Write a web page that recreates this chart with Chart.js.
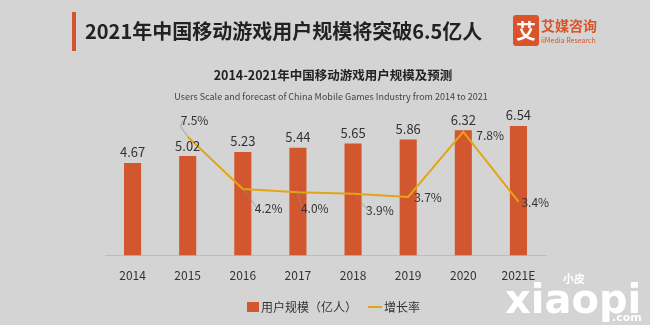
<!DOCTYPE html>
<html>
<head>
<meta charset="utf-8">
<script src="https://cdn.jsdelivr.net/npm/chart.js@4.4.0/dist/chart.umd.min.js"></script>
<style>
  html, body { margin: 0; padding: 0; background: #d4d4d4; }
  #wrap { width: 650px; height: 325px; position: relative; }
</style>
</head>
<body>
<div id="wrap"><canvas id="chart" width="650" height="325"></canvas></div>
<script>
// 数据
const years = ['2014', '2015', '2016', '2017', '2018', '2019', '2020', '2021E'];
const users = [4.67, 5.02, 5.23, 5.44, 5.65, 5.86, 6.32, 6.54];
const growth = [null, 7.5, 4.2, 4.0, 3.9, 3.7, 7.8, 3.4];
const growthLabels = ['', '7.5%', '4.2%', '4.0%', '3.9%', '3.7%', '7.8%', '3.4%'];
// 增长率标签相对折线点的偏移 [dx, dy]
const growthLabelOffset = [null, [5, -16], [24, 19], [15, 16], [25, 17], [18, 1], [25, 4], [15, 1]];

const BAR_COLOR = '#d2572f';
const LINE_COLOR = '#e2a516';
const TEXT_COLOR = '#333333';
const FONT = '"Noto Sans CJK SC", "Noto Sans", sans-serif';

// 标题、标签、图例都直接画在画布上
const decorPlugin = {
    id: 'decor',
    afterDatasetsDraw(chart) {
        const ctx = chart.ctx;
        const barMeta = chart.getDatasetMeta(0);
        const lineMeta = chart.getDatasetMeta(1);
        ctx.save();

        // 柱子数值
        ctx.fillStyle = TEXT_COLOR;
        ctx.font = '13px ' + FONT;
        ctx.textAlign = 'center';
        ctx.textBaseline = 'bottom';
        barMeta.data.forEach((bar, i) => {
            ctx.fillText(users[i].toFixed(2), bar.x, bar.y - 4);
        });

        // 增长率标签和引导线
        ctx.font = '12px ' + FONT;
        ctx.textBaseline = 'middle';
        lineMeta.data.forEach((pt, i) => {
            const off = growthLabelOffset[i];
            if (!off || growth[i] == null) return;
            const lx = pt.x + off[0];
            const ly = pt.y + off[1];
            ctx.strokeStyle = '#8a8a8a';
            ctx.lineWidth = 0.7;
            ctx.beginPath();
            if (Math.abs(off[1]) > 8) {
                ctx.moveTo(pt.x, pt.y);
                ctx.lineTo(lx - 12, ly + (off[1] > 0 ? -3 : 6));
                ctx.lineTo(lx - 10, ly);
                ctx.stroke();
            }
            ctx.textAlign = 'left';
            ctx.fillText(growthLabels[i], lx - 12, ly);
        });
        ctx.restore();
    },
    afterDraw(chart) {
        const ctx = chart.ctx;
        ctx.save();

        // 左上角红条和主标题
        ctx.fillStyle = '#d6542c';
        ctx.fillRect(72, 12, 4, 39);
        ctx.fillStyle = '#222';
        ctx.font = 'bold 20px ' + FONT;
        ctx.textAlign = 'left';
        ctx.textBaseline = 'middle';
        ctx.fillText('2021年中国移动游戏用户规模将突破6.5亿人', 85, 31);

        // 艾媒咨询标志
        ctx.fillStyle = '#d9532b';
        ctx.beginPath();
        ctx.roundRect(513, 15, 26, 31, 3);
        ctx.fill();
        ctx.fillStyle = '#fff';
        ctx.font = 'bold 20px ' + FONT;
        ctx.textAlign = 'center';
        ctx.fillText('艾', 526, 31);
        ctx.fillStyle = '#d9532b';
        ctx.font = 'bold 14px ' + FONT;
        ctx.textAlign = 'left';
        ctx.fillText('艾媒咨询', 541, 26);
        ctx.font = '7px ' + FONT;
        ctx.fillText('iiMedia Research', 541, 40);

        // 副标题
        ctx.fillStyle = '#222';
        ctx.textAlign = 'center';
        ctx.font = 'bold 12.5px ' + FONT;
        ctx.fillText('2014-2021年中国移动游戏用户规模及预测', 333, 75);
        ctx.fillStyle = '#444';
        ctx.font = '9px ' + FONT;
        ctx.fillText('Users Scale and forecast of China Mobile Games Industry from 2014 to 2021', 331, 97);

        // 图例
        ctx.fillStyle = BAR_COLOR;
        ctx.fillRect(247, 302, 12, 10);
        ctx.fillStyle = TEXT_COLOR;
        ctx.font = '12px ' + FONT;
        ctx.textAlign = 'left';
        ctx.fillText('用户规模（亿人）', 261, 307);
        ctx.strokeStyle = LINE_COLOR;
        ctx.lineWidth = 2;
        ctx.beginPath();
        ctx.moveTo(368, 307);
        ctx.lineTo(382, 307);
        ctx.stroke();
        ctx.fillText('增长率', 384, 307);

        // 右下角水印
        ctx.fillStyle = '#ffffff';
        ctx.font = 'bold 11px ' + FONT;
        ctx.fillText('小皮', 563, 279);
        ctx.font = 'bold 40px "DejaVu Sans", sans-serif';
        ctx.fillText('xiaopi', 505, 303);
        ctx.font = 'bold 11px "DejaVu Sans", sans-serif';
        ctx.fillText('.com', 612, 318);
        ctx.restore();
    }
};

new Chart(document.getElementById('chart'), {
    data: {
        labels: years,
        datasets: [
            {
                type: 'bar',
                label: '用户规模（亿人）',
                data: users,
                backgroundColor: BAR_COLOR,
                barPercentage: 0.31,
                categoryPercentage: 1,
                yAxisID: 'y',
                order: 2
            },
            {
                type: 'line',
                label: '增长率',
                data: growth,
                borderColor: LINE_COLOR,
                borderWidth: 2,
                pointRadius: 0,
                tension: 0,
                yAxisID: 'y1',
                order: 1
            }
        ]
    },
    options: {
        responsive: false,
        animation: false,
        layout: { padding: { left: 105, right: 104, top: 97, bottom: 29 } },
        plugins: {
            legend: { display: false },
            tooltip: { enabled: false }
        },
        scales: {
            x: {
                grid: { display: false, drawTicks: false },
                border: { display: true, color: '#bdbdbd', width: 1 },
                ticks: {
                    color: TEXT_COLOR,
                    padding: 13,
                    font: { size: 12, family: FONT }
                }
            },
            y: { display: false, min: 0, max: 8 },
            y1: { display: false, min: 0, max: 10, position: 'right' }
        }
    },
    plugins: [decorPlugin]
});
</script>
</body>
</html>
